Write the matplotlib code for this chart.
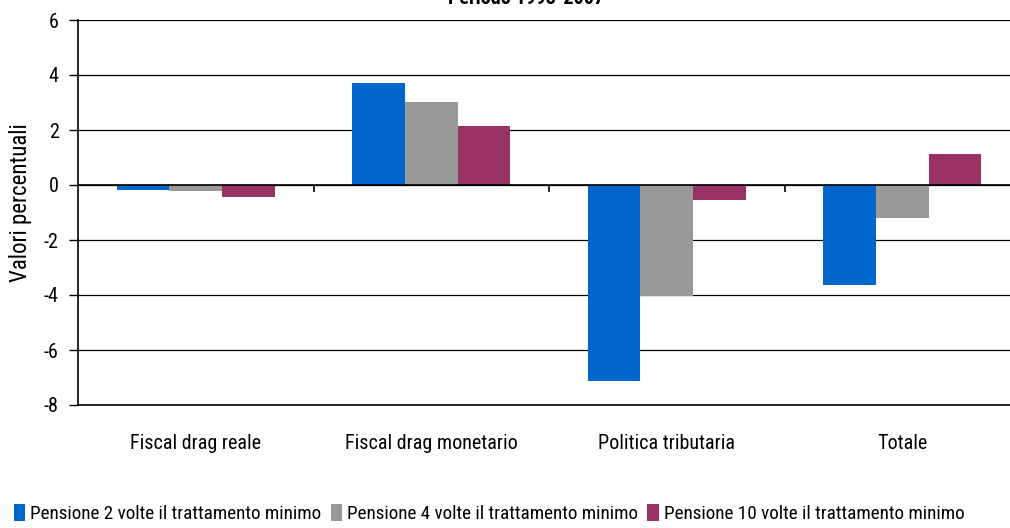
import matplotlib
matplotlib.use("Agg")
import matplotlib.pyplot as plt
import numpy as np
from matplotlib import font_manager

categories = ["Fiscal drag reale", "Fiscal drag monetario", "Politica tributaria", "Totale"]
series_names = ["Pensione 2 volte il trattamento minimo",
                "Pensione 4 volte il trattamento minimo",
                "Pensione 10 volte il trattamento minimo"]
pens2 = [-0.18, 3.71, -7.13, -3.64]
pens4 = [-0.22, 3.02, -4.04, -1.20]
pens10 = [-0.45, 2.15, -0.55, 1.13]
yticks = [6, 4, 2, 0, -2, -4, -6, -8]
colors = ["#0066CC", "#999999", "#993366"]

available = {f.name for f in font_manager.fontManager.ttflist}
narrow = None
for cand in ["Liberation Sans Narrow", "DejaVu Sans Condensed", "Roboto Condensed",
             "Open Sans Condensed", "Noto Sans Condensed"]:
    if cand in available:
        narrow = cand
        break
if narrow:
    plt.rcParams['font.family'] = [narrow, "DejaVu Sans"]
    fs_tick, fs_cat, fs_leg, fs_ylab = 14.5, 14.5, 13.8, 16.5
else:
    plt.rcParams['font.family'] = ["Liberation Sans", "DejaVu Sans"]
    fs_tick, fs_cat, fs_leg, fs_ylab = 13, 13, 12, 14

fig = plt.figure(figsize=(10.1, 5.28), dpi=100)
ax = fig.add_axes([78/1010, 1 - 405/528, 942/1010, 385/528])

x = np.arange(len(categories))
w = 0.223
for i, (vals, c, name) in enumerate(zip([pens2, pens4, pens10], colors, series_names)):
    ax.bar(x + (i - 1) * w, vals, width=w, color=c, label=name, zorder=3)

ax.set_xlim(-0.5, len(categories) - 0.5)
ax.set_ylim(-8, 6)
ax.set_yticks(yticks)
ax.set_yticklabels([str(t) for t in yticks])
ax.yaxis.grid(True, color="black", linewidth=0.9, zorder=0)
ax.axhline(-8, color="black", linewidth=1.2, zorder=4, clip_on=False)
ax.axhline(0, color="black", linewidth=1.2, zorder=4)
ax.vlines([0.5, 1.5, 2.5], -0.25, 0, color="black", linewidth=1.2, zorder=4)

for s in ["top", "right", "bottom"]:
    ax.spines[s].set_visible(False)
ax.spines["left"].set_linewidth(1.2)
ax.tick_params(axis="y", direction="out", length=6.5, width=1, labelsize=fs_tick, pad=7.5)
ax.set_xticks(x)
ax.set_xticklabels(categories, fontsize=fs_cat)
ax.tick_params(axis="x", length=0, pad=21)
ax.set_ylabel("Valori percentuali", fontsize=fs_ylab)
ax.yaxis.set_label_coords(-0.049, 0.525)

fig.text(0.521, 1.003, "Periodo 1993-2007", ha="center", va="center", fontsize=fs_tick, fontweight="bold")

fig.legend(loc="lower left", bbox_to_anchor=(0.002, -0.012), ncol=3, frameon=False,
           fontsize=fs_leg, handlelength=0.6, handleheight=1.0, handletextpad=0.25,
           columnspacing=0.5, borderaxespad=0.2)

fig.savefig("out.png", dpi=100)
